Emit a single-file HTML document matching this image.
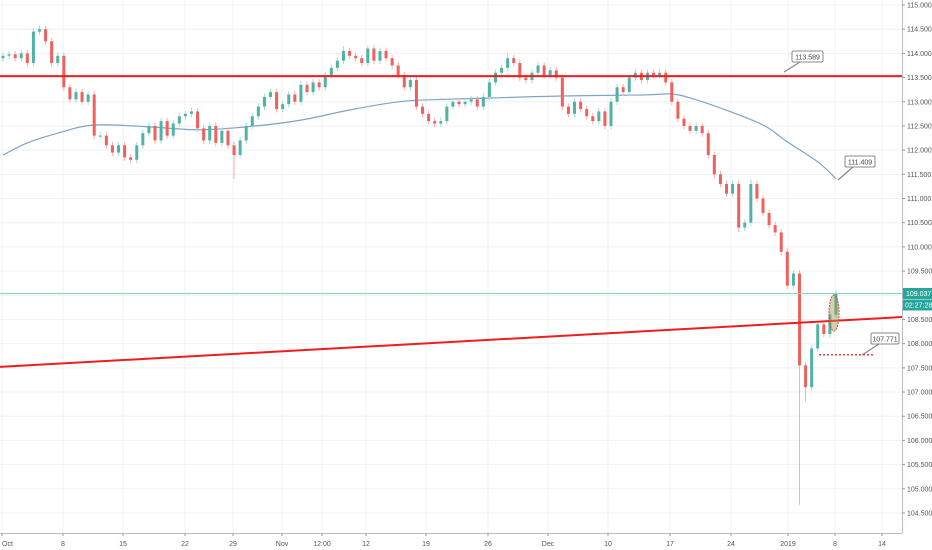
<!DOCTYPE html>
<html><head><meta charset="utf-8"><style>
html,body{margin:0;padding:0;background:#fff;}
svg{display:block;font-family:"Liberation Sans",sans-serif;}
</style></head><body>
<svg id="chart" width="932" height="550" viewBox="0 0 932 550" xmlns="http://www.w3.org/2000/svg">
<g id="grid"></g>
<g id="ma"></g>
<g id="candles"></g>
<g id="draw"></g>
<g id="axes"></g>
</svg>
<script>
const closes=[113.95,113.98,113.9,114.0,113.8,114.45,114.5,114.25,113.8,113.95,
113.3,113.05,113.2,113.0,113.15,112.3,112.3,112.1,111.95,112.1,
111.85,111.8,112.1,112.35,112.5,112.2,112.6,112.3,112.55,112.7,
112.75,112.8,112.45,112.2,112.5,112.15,112.4,112.1,111.9,112.2,
112.5,112.7,112.9,113.1,113.2,112.85,112.95,113.15,113.0,113.35,
113.2,113.4,113.3,113.55,113.7,113.85,114.05,113.95,113.9,113.8,
114.1,113.85,114.05,113.9,113.75,113.55,113.3,113.45,112.9,112.75,
112.6,112.55,112.6,112.9,113.0,112.95,113.0,113.05,112.9,113.1,
113.4,113.6,113.7,113.9,113.8,113.5,113.45,113.6,113.75,113.55,
113.65,113.5,112.9,112.75,113.0,112.85,112.7,112.6,112.8,112.5,
113.0,113.3,113.2,113.5,113.6,113.45,113.6,113.55,113.6,113.4,
113.0,112.65,112.5,112.4,112.5,112.35,111.9,111.5,111.3,111.1,
111.3,110.4,110.5,111.3,111.0,110.7,110.45,110.3,109.9,109.2,
109.45,107.55,107.1,107.9,108.4,108.2,108.6,109.04];
const firstOpen=113.9;
const wickDefault=0.07;
const highOverrides=[[6,114.58],[56,114.15],[83,114.0],[123,111.4]];
const lowOverrides=[[38,111.4],[131,104.67],[132,106.8],[121,110.3]];
const maIdx=[0,4,9,15,24,32,40,49,57,65,70,81,92,105,110,113,118,125,129,134,137];
const maVals=[111.9,112.15,112.35,112.52,112.48,112.42,112.48,112.62,112.83,113.0,113.04,113.08,113.12,113.14,113.16,113.08,112.87,112.52,112.17,111.76,111.41];
const yTicks=[115,114.5,114,113.5,113,112.5,112,111.5,111,110.5,110,109.5,109,108.5,108,107.5,107,106.5,106,105.5,105,104.5];
const xLabels=["Oct","8","15","22","29","Nov","12:00","12","19","26","Dec","10","17","24","2019","8","14"];
const xLabelPos=[2,63,123,185,233,282,322,366,426,488,548,608,670,731,788,835,882];
const hLevel=113.53, trendP0=107.52, trendP1=108.55, lastPrice=109.037, dotLevel=107.771;

const NS="http://www.w3.org/2000/svg";
const plotR=902, plotB=533;
function y(p){return 5+(115-p)*48.38;}
function x(i){return 3+i*6.08;}
function mk(tag,attrs,parent){const e=document.createElementNS(NS,tag);for(const k in attrs)e.setAttribute(k,attrs[k]);parent.appendChild(e);return e;}
const G=id=>document.getElementById(id);

yTicks.forEach(t=>{const l=mk('line',{x1:0,x2:plotR,y1:y(t),y2:y(t),stroke:'#eef2f6','stroke-width':1},G('grid'));

});
xLabelPos.forEach(px=>{const l=mk('line',{x1:px,x2:px,y1:0,y2:plotB,stroke:'#eef2f6','stroke-width':1},G('grid'));

});

// MA smooth path (Catmull-Rom)
const pts=maIdx.map((i,k)=>[x(i),y(maVals[k])]);
let d='M'+pts[0][0].toFixed(1)+' '+pts[0][1].toFixed(1);
for(let k=0;k<pts.length-1;k++){
 const p0=pts[Math.max(0,k-1)],p1=pts[k],p2=pts[k+1],p3=pts[Math.min(pts.length-1,k+2)];
 const c1=[p1[0]+(p2[0]-p0[0])/6,p1[1]+(p2[1]-p0[1])/6],c2=[p2[0]-(p3[0]-p1[0])/6,p2[1]-(p3[1]-p1[1])/6];
 d+=' C'+c1.map(v=>v.toFixed(1)).join(' ')+' '+c2.map(v=>v.toFixed(1)).join(' ')+' '+p2.map(v=>v.toFixed(1)).join(' ');
}
const ma=mk('path',{d:d,fill:'none',stroke:'#7ea4c8','stroke-width':1.2},G('ma'));



let prev=firstOpen;
closes.forEach((c,i)=>{
 const o=prev;prev=c;
 let hi=Math.max(o,c)+wickDefault, lo=Math.min(o,c)-wickDefault;
 highOverrides.forEach(h=>{if(h[0]===i)hi=h[1];});
 lowOverrides.forEach(h=>{if(h[0]===i)lo=h[1];});
 const up=c>=o, col=up?'#4fb3a5':'#f0605c', wcol=up?'#a6dbd3':'#f7b0ae';
 const g=mk('g',{},G('candles'));
 
 
 mk('line',{x1:x(i),x2:x(i),y1:y(hi),y2:y(lo),stroke:wcol,'stroke-width':1},g);
 const top=y(Math.max(o,c)),bot=y(Math.min(o,c));
 mk('rect',{x:x(i)-1.5,y:top,width:3,height:Math.max(1,bot-top),fill:col},g);
});

const dr=G('draw');
const hl=mk('line',{x1:0,x2:plotR,y1:y(hLevel),y2:y(hLevel),stroke:'#f01d1d','stroke-width':2},dr);


const tl=mk('line',{x1:0,x2:plotR,y1:y(trendP0),y2:y(trendP1),stroke:'#f01d1d','stroke-width':2},dr);


const pl=mk('line',{x1:0,x2:plotR,y1:y(lastPrice),y2:y(lastPrice),stroke:'#8fcfc6','stroke-width':1},dr);


const dl=mk('line',{x1:819,x2:874,y1:y(dotLevel),y2:y(dotLevel),stroke:'#f03a3a','stroke-width':1.5,'stroke-dasharray':'2,2'},dr);


const el=mk('ellipse',{cx:834,cy:313,rx:5,ry:18,fill:'rgba(160,150,80,0.45)',stroke:'#c0504d','stroke-width':1,'stroke-dasharray':'2,1'},dr);


function callout(bx,by,w,txt,tx,ty,name){
 const g=mk('g',{},dr);
 
 
 mk('line',{x1:bx+8,y1:by+11,x2:tx,y2:ty,stroke:'#888','stroke-width':1.2},g);
 mk('rect',{x:bx,y:by,width:w,height:11,rx:1.5,fill:'#fff',stroke:'#888','stroke-width':1},g);
 const t=mk('text',{x:bx+w/2,y:by+8.5,'font-size':7,'text-anchor':'middle',fill:'#444'},g);t.textContent=txt;
}
callout(792,51,31,'113.589',784,72,'callout-113589');
callout(845,156,30,'111.409',838,180,'callout-111409');
callout(871,333,28,'107.771',862,355,'callout-107771');

const ax=G('axes');
mk('line',{x1:plotR+0.5,x2:plotR+0.5,y1:0,y2:plotB,stroke:'#b8bcc4','stroke-width':1},ax);
mk('line',{x1:0,x2:plotR,y1:plotB+0.5,y2:plotB+0.5,stroke:'#b8bcc4','stroke-width':1},ax);
yTicks.forEach(t=>{
 mk('line',{x1:plotR,x2:plotR+3,y1:y(t),y2:y(t),stroke:'#999'},ax);
 const tx=mk('text',{x:907,y:y(t)+2.5,'font-size':7,fill:'#555'},ax);
 
 
 tx.textContent=t.toFixed(3);
});
xLabels.forEach((lb,k)=>{
 mk('line',{x1:xLabelPos[k],x2:xLabelPos[k],y1:plotB,y2:plotB+3,stroke:'#999'},ax);
 const tx=mk('text',{x:xLabelPos[k],y:546,'font-size':7,fill:'#555','text-anchor':k===0?'start':'middle'},ax);
 
 
 tx.textContent=lb;
});
const pb=mk('g',{},ax);


mk('rect',{x:903,y:y(lastPrice)-5.5,width:29,height:11,fill:'#26a69a'},pb);
let t1=mk('text',{x:906,y:y(lastPrice)+2.5,'font-size':7,fill:'#fff'},pb);t1.textContent=lastPrice.toFixed(3);
mk('rect',{x:903,y:y(lastPrice)+6,width:29,height:11,fill:'#26a69a'},pb);
let t2=mk('text',{x:905,y:y(lastPrice)+14,'font-size':7,fill:'#fff'},pb);t2.textContent='02:27:28';
</script>
</body></html>
